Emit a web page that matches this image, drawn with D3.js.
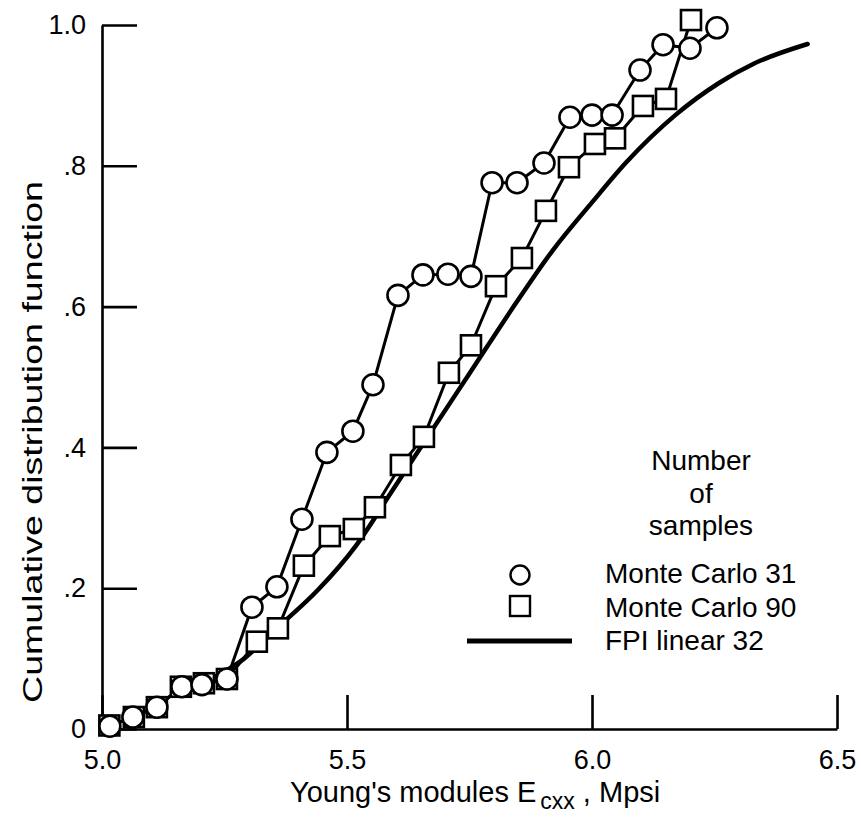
<!DOCTYPE html>
<html>
<head>
<meta charset="utf-8">
<script src="https://cdn.jsdelivr.net/npm/d3@7"></script>
<style>
  html, body { margin: 0; padding: 0; background: #fff; }
  svg { display: block; }
  text { font-family: "Liberation Sans", Arial, Helvetica, sans-serif; fill: #000; }
</style>
</head>
<body>
<svg id="chart" width="861" height="817"></svg>
<script>
// ---- data ----
const mc31X = [5.016, 5.063, 5.112, 5.163, 5.204, 5.255, 5.306, 5.357, 5.408, 5.459, 5.512, 5.553, 5.604,
               5.655, 5.706, 5.753, 5.796, 5.847, 5.902, 5.955, 6.000, 6.041, 6.098, 6.145, 6.200, 6.255];
const mc31Y = [0.004, 0.017, 0.031, 0.060, 0.063, 0.071, 0.173, 0.202, 0.298, 0.393, 0.423, 0.489, 0.616,
               0.645, 0.646, 0.643, 0.776, 0.776, 0.804, 0.869, 0.872, 0.872, 0.936, 0.972, 0.967, 0.996];

const mc90X = [5.015, 5.065, 5.112, 5.161, 5.208, 5.255, 5.316, 5.359, 5.412, 5.465, 5.514, 5.557, 5.610,
               5.657, 5.708, 5.753, 5.804, 5.857, 5.906, 5.953, 6.006, 6.047, 6.104, 6.151, 6.202];
const mc90Y = [0.005, 0.017, 0.031, 0.060, 0.065, 0.071, 0.124, 0.143, 0.232, 0.274, 0.284, 0.315, 0.375,
               0.415, 0.506, 0.545, 0.629, 0.669, 0.736, 0.798, 0.831, 0.839, 0.885, 0.895, 1.007];

const fpiX = [5.20, 5.29, 5.36, 5.44, 5.52, 5.59, 5.66, 5.75, 5.84, 5.92, 6.00, 6.07, 6.17, 6.26, 6.33, 6.44];
const fpiY = [0.063, 0.100, 0.145, 0.197, 0.262, 0.336, 0.410, 0.505, 0.600, 0.680, 0.748, 0.805, 0.872, 0.918, 0.945, 0.973];

const xTicks = [5.0, 5.5, 6.0, 6.5];
const xTickLabels = ["5.0", "5.5", "6.0", "6.5"];
const yTicks = [0, 0.2, 0.4, 0.6, 0.8, 1.0];
const yTickLabels = ["0", ".2", ".4", ".6", ".8", "1.0"];

const legendTitle = ["Number", "of", "samples"];
const seriesNames = ["Monte Carlo 31", "Monte Carlo 90", "FPI linear 32"];

// ---- drawing ----
const svg = d3.select("#chart");
const x = d3.scaleLinear().domain([5.0, 6.5]).range([102, 837]);
const y = d3.scaleLinear().domain([0, 1.0]).range([729, 25]);

const zip = (xs, ys) => xs.map((v, i) => ({x: v, y: ys[i]}));
const mc31 = zip(mc31X, mc31Y);
const mc90 = zip(mc90X, mc90Y);
const fpi = zip(fpiX, fpiY);

// axes
const yAxis = d3.axisLeft(y)
  .tickValues(yTicks)
  .tickFormat((d, i) => yTickLabels[i])
  .tickSizeInner(-35).tickSizeOuter(0).tickPadding(16);
const xAxis = d3.axisBottom(x)
  .tickValues(xTicks)
  .tickFormat((d, i) => xTickLabels[i])
  .tickSizeInner(-34).tickSizeOuter(0).tickPadding(21);

const gy = svg.append("g").attr("transform", "translate(102,0)").call(yAxis);
const gx = svg.append("g").attr("transform", "translate(0,729)").call(xAxis);
[gx, gy].forEach(g => {
  g.selectAll("path.domain").attr("stroke", "#000").attr("stroke-width", 2.6);
  g.selectAll(".tick line").attr("stroke", "#000").attr("stroke-width", 2.6);
  g.selectAll(".tick text").attr("font-size", 27).attr("font-family", "Liberation Sans, Arial, sans-serif").attr("fill", "#000");
});

// lines
const line = d3.line().x(d => x(d.x)).y(d => y(d.y));
const smooth = d3.line().x(d => x(d.x)).y(d => y(d.y)).curve(d3.curveMonotoneX);

svg.append("path").datum(fpi).attr("d", smooth)
  .attr("fill", "none").attr("stroke", "#000").attr("stroke-width", 4.5)
  .attr("stroke-linecap", "round").attr("stroke-linejoin", "round");
svg.append("path").datum(mc90).attr("d", line)
  .attr("fill", "none").attr("stroke", "#000").attr("stroke-width", 3);
svg.append("path").datum(mc31).attr("d", line)
  .attr("fill", "none").attr("stroke", "#000").attr("stroke-width", 3);

// markers
const sq = 20;
svg.append("g").selectAll("rect").data(mc90).join("rect")
  .attr("x", d => x(d.x) - sq / 2).attr("y", d => y(d.y) - sq / 2)
  .attr("width", sq).attr("height", sq)
  .attr("fill", "#fff").attr("stroke", "#000").attr("stroke-width", 2.6);
svg.append("g").selectAll("circle").data(mc31).join("circle")
  .attr("cx", d => x(d.x)).attr("cy", d => y(d.y)).attr("r", 10.5)
  .attr("fill", "#fff").attr("stroke", "#000").attr("stroke-width", 2.6);

// axis titles
svg.append("text")
  .attr("transform", "translate(42,442) rotate(-90)")
  .attr("text-anchor", "middle").attr("font-size", 27)
  .attr("textLength", 522).attr("lengthAdjust", "spacingAndGlyphs")
  .text("Cumulative distribution function");

const xt = svg.append("text").attr("x", 290).attr("y", 802).attr("font-size", 29);
xt.append("tspan").text("Young's modules E");
xt.append("tspan").attr("dx", 4).attr("dy", 7).attr("font-size", 23).text("cxx");
xt.append("tspan").attr("dy", -7).text(" , Mpsi");

// legend
const lg = svg.append("g");
lg.selectAll("text.lt").data(legendTitle).join("text").attr("class", "lt")
  .attr("x", 701).attr("y", (d, i) => 470 + i * 32.5)
  .attr("text-anchor", "middle").attr("font-size", 28).text(d => d);
lg.selectAll("text.ln").data(seriesNames).join("text").attr("class", "ln")
  .attr("x", 605).attr("y", (d, i) => 583 + i * 33.5)
  .attr("font-size", 28).text(d => d);
lg.append("circle").attr("cx", 520).attr("cy", 575).attr("r", 9.5)
  .attr("fill", "#fff").attr("stroke", "#000").attr("stroke-width", 2.4);
lg.append("rect").attr("x", 510).attr("y", 596).attr("width", 20).attr("height", 20)
  .attr("fill", "#fff").attr("stroke", "#000").attr("stroke-width", 2.4);
lg.append("line").attr("x1", 467).attr("x2", 572).attr("y1", 641).attr("y2", 641)
  .attr("stroke", "#000").attr("stroke-width", 5);
</script>
</body>
</html>
